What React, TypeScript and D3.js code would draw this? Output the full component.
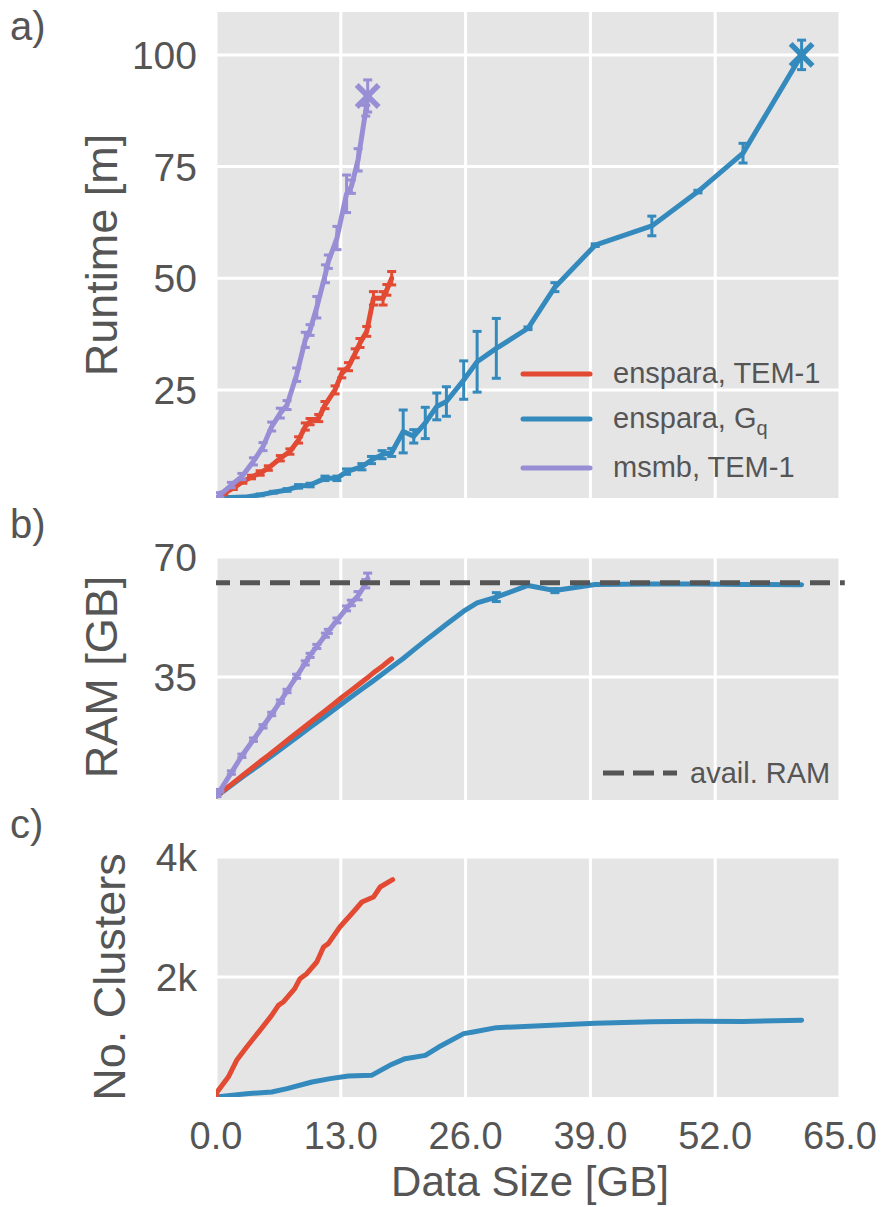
import React from "react";
import * as d3 from "d3";

// ---- tick values ----
const xTicks = [0, 13, 26, 39, 52, 65];
const runtimeTicks = [25, 50, 75, 100];
const ramTicks = [35, 70];
const clusterTicks = [2000, 4000];
const clusterTickLabels = ["2k", "4k"];

// ---- enspara, TEM-1 ----
const enspTemX = [0.1, 0.8, 1.8, 2.8, 3.7, 4.6, 5.45, 6.7, 7.7, 8.6, 9.3, 9.8, 10.7, 11.35, 12.4, 13.1, 13.8, 14.5, 15.0, 15.7, 16.4, 17.4, 17.8, 18.3];
const enspTemRuntime = [0.8, 1.8, 3.0, 4.5, 5.5, 6.4, 7.5, 9.7, 11.2, 13.8, 16.8, 17.9, 18.7, 21.6, 25.0, 28.7, 30.2, 33.2, 35.5, 38.1, 45.5, 45.5, 47.4, 50.0];
const enspTemRuntimeErr = [0.2, 0.3, 0.3, 0.4, 0.4, 0.5, 0.5, 0.6, 0.6, 0.7, 0.8, 0.7, 0.8, 0.8, 0.9, 1.0, 0.9, 1.0, 1.0, 1.1, 1.5, 1.5, 1.2, 1.5];
const enspTemRam = [0.3, 1.9, 4.1, 6.3, 8.3, 10.3, 12.1, 14.9, 17.1, 19.1, 20.6, 21.7, 23.7, 25.1, 27.4, 29.0, 30.5, 32.0, 33.1, 34.6, 36.2, 38.3, 39.2, 40.3];

// ---- enspara, Gq ----
const enspGqX = [0.1, 1.5, 3.0, 4.6, 6.0, 7.4, 8.6, 9.8, 11.35, 12.6, 13.6, 15.2, 16.2, 17.3, 18.3, 19.5, 20.6, 21.8, 23.0, 24.0, 25.8, 27.2, 29.2, 32.5, 35.3, 39.5, 45.4, 50.2, 54.9, 61.0];
const enspGqRuntime = [0.8, 0.9, 1.0, 1.5, 2.1, 2.6, 3.4, 3.7, 5.2, 5.2, 6.7, 7.8, 9.3, 10.5, 11.0, 15.7, 14.6, 17.6, 21.3, 22.4, 27.2, 31.3, 34.3, 38.8, 48.0, 57.4, 61.7, 69.4, 78.0, 100.0];
const enspGqRuntimeErr = [0.1, 0.1, 0.1, 0.2, 0.2, 0.3, 0.4, 0.4, 0.5, 0.5, 0.6, 0.7, 0.8, 0.9, 0.9, 4.8, 1.5, 3.5, 3.0, 3.3, 4.3, 6.8, 6.7, 0.3, 1.0, 0.3, 2.2, 0.3, 2.2, 3.3];
const enspGqRam = [0.3, 3.2, 6.3, 9.5, 12.4, 15.3, 17.8, 20.3, 23.5, 26.1, 28.2, 31.5, 33.5, 35.8, 37.9, 40.4, 42.9, 45.6, 48.2, 50.4, 54.2, 56.6, 58.3, 61.7, 60.2, 62.0, 62.1, 62.1, 62.0, 61.9];
const enspGqRamErr = [0, 0, 0, 0, 0, 0, 0, 0, 0, 0, 0, 0, 0, 0, 0, 0, 0, 0, 0, 0, 0, 0, 1.3, 0, 0.6, 0, 0, 0, 0, 0];

// ---- msmb, TEM-1 ----
const msmbTemX = [0.1, 0.4, 1.6, 2.7, 3.9, 4.9, 5.8, 6.7, 7.4, 8.4, 9.3, 9.8, 10.5, 11.4, 11.7, 12.6, 13.6, 14.1, 14.8, 15.6, 15.8];
const msmbTemRuntime = [0.8, 1.5, 3.7, 5.6, 9.0, 12.3, 16.8, 19.8, 21.6, 28.4, 36.2, 38.4, 43.5, 51.0, 53.7, 59.0, 68.9, 70.5, 76.5, 87.5, 90.8];
const msmbTemRuntimeErr = [0.3, 0.5, 0.6, 0.7, 0.8, 0.9, 1.0, 1.1, 1.0, 1.5, 1.7, 1.2, 2.4, 2.0, 1.5, 2.6, 4.2, 1.5, 2.5, 1.2, 3.6];
const msmbTemRam = [0.5, 1.8, 7.1, 12.0, 16.7, 20.6, 24.2, 27.8, 30.9, 35.2, 39.1, 41.3, 43.9, 47.2, 48.3, 51.5, 55.0, 56.6, 58.7, 62.2, 63.8];
const msmbTemRamErr = [0.4, 0.4, 0.5, 0.5, 0.5, 0.5, 0.5, 0.5, 0.5, 0.6, 0.6, 0.6, 0.6, 0.6, 0.6, 0.7, 0.7, 0.8, 1.2, 1.2, 1.5];

// ---- cluster counts ----
const clusterTemX = [0.0, 0.1, 1.28, 2.15, 3.2, 4.58, 5.8, 6.5, 7.0, 8.2, 8.75, 9.45, 10.5, 11.2, 11.7, 12.9, 14.3, 15.2, 16.4, 17.1, 18.4];
const clusterTemCount = [0, 80, 333, 611, 833, 1111, 1361, 1528, 1583, 1806, 1972, 2056, 2250, 2500, 2556, 2833, 3083, 3250, 3333, 3500, 3622];
const clusterGqX = [0.0, 3.2, 5.8, 7.4, 10.0, 11.9, 13.8, 16.2, 18.1, 19.7, 21.8, 23.2, 25.8, 26.8, 29.2, 32.7, 39.5, 45.4, 50.2, 54.9, 61.0];
const clusterGqCount = [0, 56, 83, 139, 250, 306, 350, 361, 528, 639, 694, 833, 1056, 1083, 1156, 1178, 1230, 1255, 1262, 1258, 1280];

// ---- available memory ----
const availRam = 62.5;
const availRamSpan = [0, 65.5];

const RED = "#E24A33";
const BLUE = "#348ABD";
const PURPLE = "#988ED5";
const TXT = "#555555";
const FONT = "'Liberation Sans', Arial, Helvetica, sans-serif";

const x = d3.scaleLinear().domain([0, 65]).range([216, 840]);
const yRun = d3.scaleLinear().domain([0.8, 109.6]).range([498, 12]);
const yRam = d3.scaleLinear().domain([-0.9, 70]).range([800, 557]);
const yClu = d3.scaleLinear().domain([0, 4000]).range([1097, 857]);

type Scale = d3.ScaleLinear<number, number>;

function Series({ xs, ys, errs, y, color, cross }: { xs: number[]; ys: number[]; errs?: number[]; y: Scale; color: string; cross?: boolean }) {
  const pts = xs.map((v, i) => [v, ys[i]] as [number, number]);
  const line = d3.line<[number, number]>().x((d) => x(d[0])).y((d) => y(d[1]));
  const last = pts[pts.length - 1];
  return (
    <g>
      <path d={line(pts) || ""} fill="none" stroke={color} strokeWidth={5} strokeLinejoin="round" strokeLinecap="round" />
      {errs &&
        pts.map((p, i) => {
          const e = errs[i];
          if (!e) return null;
          const cx = x(p[0]);
          const y0 = y(p[1] - e);
          const y1 = y(p[1] + e);
          return (
            <g key={i} stroke={color} strokeWidth={3}>
              <line x1={cx} x2={cx} y1={y0} y2={y1} />
              <line x1={cx - 4.5} x2={cx + 4.5} y1={y0} y2={y0} />
              <line x1={cx - 4.5} x2={cx + 4.5} y1={y1} y2={y1} />
            </g>
          );
        })}
      {cross && (
        <g stroke={color} strokeWidth={5.5}>
          <line x1={x(last[0]) - 11} x2={x(last[0]) + 11} y1={y(last[1]) - 11} y2={y(last[1]) + 11} />
          <line x1={x(last[0]) - 11} x2={x(last[0]) + 11} y1={y(last[1]) + 11} y2={y(last[1]) - 11} />
        </g>
      )}
    </g>
  );
}

function Panel({ y, ticks, labels, id, children }: { y: Scale; ticks: number[]; labels: string[]; id: string; children: React.ReactNode }) {
  const [bottom, top] = y.range();
  return (
    <g>
      <rect x={x(0)} y={top} width={x(65) - x(0)} height={bottom - top} fill="#E5E5E5" />
      <clipPath id={id}>
        <rect x={x(0)} y={top} width={x(65) - x(0)} height={bottom - top} />
      </clipPath>
      <g clipPath={`url(#${id})`} stroke="#ffffff" strokeWidth={3}>
        {xTicks.map((t) => (
          <line key={"v" + t} x1={x(t)} x2={x(t)} y1={top} y2={bottom} />
        ))}
        {ticks.map((t) => (
          <line key={"h" + t} x1={x(0)} x2={x(65)} y1={y(t)} y2={y(t)} />
        ))}
      </g>
      {ticks.map((t, i) => (
        <text key={"l" + t} x={197} y={y(t) + 14} textAnchor="end" fontSize={39} fill={TXT} fontFamily={FONT}>
          {labels[i]}
        </text>
      ))}
      {children}
    </g>
  );
}

export default function App() {
  const legendRows = [
    { color: RED, y: 374, label: <>enspara, TEM-1</> },
    { color: BLUE, y: 419, label: <>enspara, G<tspan fontSize={20} dy={7}>q</tspan></> },
    { color: PURPLE, y: 468, label: <>msmb, TEM-1</> },
  ];
  return (
    <svg width={886} height={1207} style={{ position: "absolute", left: 0, top: 0, background: "#ffffff" }} fontFamily={FONT}>
      {/* a) runtime */}
      <Panel y={yRun} ticks={runtimeTicks} labels={runtimeTicks.map(String)} id="clipA">
        <g clipPath="url(#clipA)">
          <Series xs={enspGqX} ys={enspGqRuntime} errs={enspGqRuntimeErr} y={yRun} color={BLUE} cross />
          <Series xs={enspTemX} ys={enspTemRuntime} errs={enspTemRuntimeErr} y={yRun} color={RED} />
          <Series xs={msmbTemX} ys={msmbTemRuntime} errs={msmbTemRuntimeErr} y={yRun} color={PURPLE} cross />
        </g>
        {legendRows.map((r, i) => (
          <g key={i}>
            <line x1={523} x2={590} y1={r.y} y2={r.y} stroke={r.color} strokeWidth={5} strokeLinecap="round" />
            <text x={613} y={r.y + 9} fontSize={29} fill={TXT}>
              {r.label}
            </text>
          </g>
        ))}
      </Panel>

      {/* b) memory */}
      <Panel y={yRam} ticks={ramTicks} labels={ramTicks.map(String)} id="clipB">
        <g clipPath="url(#clipB)">
          <Series xs={enspGqX} ys={enspGqRam} errs={enspGqRamErr} y={yRam} color={BLUE} />
          <Series xs={enspTemX} ys={enspTemRam} y={yRam} color={RED} />
          <Series xs={msmbTemX} ys={msmbTemRam} errs={msmbTemRamErr} y={yRam} color={PURPLE} />
        </g>
        <line
          x1={x(availRamSpan[0])}
          x2={x(availRamSpan[1])}
          y1={yRam(availRam)}
          y2={yRam(availRam)}
          stroke="#555555"
          strokeWidth={5}
          strokeDasharray="20,10"
          strokeDashoffset={6}
        />
        <line x1={603} x2={677} y1={773} y2={773} stroke="#555555" strokeWidth={5} strokeDasharray="21,9" />
        <text x={690} y={783} fontSize={29} fill={TXT}>
          avail. RAM
        </text>
      </Panel>

      {/* c) cluster count */}
      <Panel y={yClu} ticks={clusterTicks} labels={clusterTickLabels} id="clipC">
        <g clipPath="url(#clipC)">
          <Series xs={clusterGqX} ys={clusterGqCount} y={yClu} color={BLUE} />
          <Series xs={clusterTemX} ys={clusterTemCount} y={yClu} color={RED} />
        </g>
      </Panel>

      {/* x axis */}
      {xTicks.map((t) => (
        <text key={t} x={x(t)} y={1149} textAnchor="middle" fontSize={38} fill={TXT}>
          {d3.format(".1f")(t)}
        </text>
      ))}
      <text x={530} y={1196} textAnchor="middle" fontSize={42} fill={TXT}>
        Data Size [GB]
      </text>

      {/* y axis titles */}
      <text transform="translate(117,255) rotate(-90)" textAnchor="middle" fontSize={45} fill={TXT}>
        Runtime [m]
      </text>
      <text transform="translate(117,677) rotate(-90)" textAnchor="middle" fontSize={45} fill={TXT}>
        RAM [GB]
      </text>
      <text transform="translate(125,977) rotate(-90)" textAnchor="middle" fontSize={45} fill={TXT}>
        No. Clusters
      </text>

      {/* panel letters */}
      <text x={10} y={40} fontSize={40} fill={TXT}>a)</text>
      <text x={10} y={538} fontSize={40} fill={TXT}>b)</text>
      <text x={10} y={838} fontSize={40} fill={TXT}>c)</text>
    </svg>
  );
}
